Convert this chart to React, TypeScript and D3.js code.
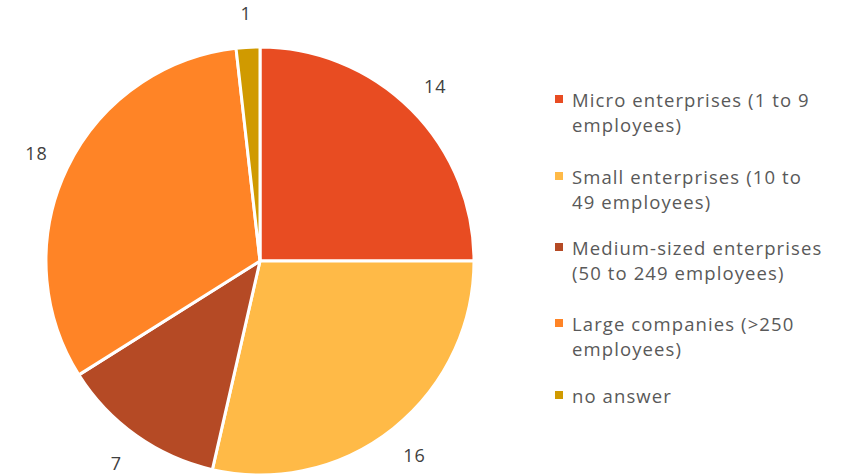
import React from "react";
import * as d3 from "d3";

const categories = [
  "Micro enterprises (1 to 9 employees)",
  "Small enterprises (10 to 49 employees)",
  "Medium-sized enterprises (50 to 249 employees)",
  "Large companies (>250 employees)",
  "no answer",
];
const values = [14, 16, 7, 18, 1];
const colors = ["#E84C22", "#FFBA47", "#B54A25", "#FF8426", "#D09A00"];
const legendLines = [
  ["Micro enterprises (1 to 9", "employees)"],
  ["Small enterprises (10 to", "49 employees)"],
  ["Medium-sized enterprises", "(50 to 249 employees)"],
  ["Large companies (>250", "employees)"],
  ["no answer"],
];

export default function App() {
  const W = 841, H = 474;
  const cx = 260, cy = 261, r = 214;
  const pie = d3.pie<number>().sort(null).value((d) => d)(values);
  const arc = d3.arc<d3.PieArcDatum<number>>().innerRadius(0).outerRadius(r);
  const labelArc = d3.arc<d3.PieArcDatum<number>>().innerRadius(248).outerRadius(248);
  const legendY = [99, 176, 247, 323, 395];
  const font = "'Open Sans', sans-serif";
  return (
    <svg width={W} height={H} style={{ position: "absolute", left: 0, top: 0 }}>
      <rect width={W} height={H} fill="#fff" />
      <g transform={`translate(${cx},${cy})`}>
        {pie.map((p, i) => (
          <path key={i} d={arc(p) || ""} fill={colors[i]} stroke="#fff" strokeWidth={3} strokeLinejoin="round" />
        ))}
        {pie.map((p, i) => {
          const [x, y] = labelArc.centroid(p);
          return (
            <text key={"l" + i} x={x} y={y} textAnchor="middle" dominantBaseline="central"
              fontFamily={font} fontSize={18} letterSpacing={1} fill="#404040">
              {values[i]}
            </text>
          );
        })}
      </g>
      {categories.map((c, i) => (
        <g key={c} transform={`translate(555,${legendY[i]})`}>
          <rect x={0} y={-4} width={8} height={8} fill={colors[i]} />
          {legendLines[i].map((ln, j) => (
            <text key={j} x={17} y={j * 25} dominantBaseline="central" fontFamily={font}
              fontSize={18.5} letterSpacing={1.1} fill="#595959">
              {ln}
            </text>
          ))}
        </g>
      ))}
    </svg>
  );
}
